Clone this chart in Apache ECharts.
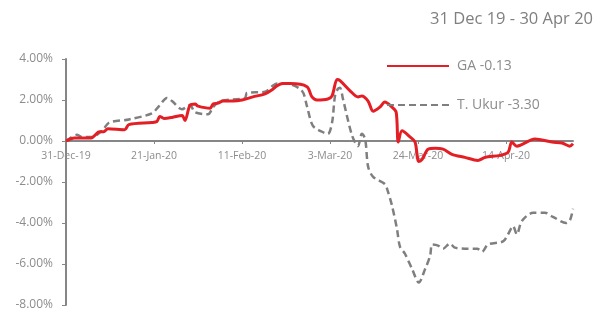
<!DOCTYPE html>
<html>
<head>
<meta charset="utf-8">
<script src="https://cdn.jsdelivr.net/npm/echarts@6/dist/echarts.min.js"></script>
<style>
  html, body { margin: 0; padding: 0; background: #fff; }
  #chart { width: 603px; height: 312px; }
</style>
</head>
<body>
<div id="chart"></div>
<script>
const startDate = new Date(Date.UTC(2019, 11, 31))
const tickDays = [0, 21, 42, 63, 84, 105]
const seriesNames = ['GA -0.13', 'T. Ukur -3.30']

const gaDays = [0, 2, 6, 8, 9, 10, 14, 15, 20.5, 21.7, 22.4, 23.4, 25.3, 27.7, 28.4, 29.6, 30.8, 31.5,
  34.4, 35.1, 36.3, 37.5, 39.9, 42, 44.6, 47.5, 49.2, 50.4, 51.8, 53.5, 57.5, 58.7, 59.9, 62.5, 63.5,
  64.7, 65.4, 67.8, 69.7, 70.6, 72.1, 73.3, 74.9, 76.1, 77.8, 78.8, 79.3, 80.2, 82.1, 83.3, 84.2, 85,
  86.4, 88.1, 90, 92.1, 95.2, 98.3, 100, 103.6, 105.5, 106.4, 107.6, 111.9, 116, 118.4, 120.2, 121]
const gaValues = [0, 0.15, 0.15, 0.45, 0.45, 0.6, 0.55, 0.8, 0.9, 0.95, 1.2, 1.1, 1.15, 1.25, 1.0, 1.75, 1.8, 1.7,
  1.6, 1.8, 1.85, 1.95, 1.95, 2.0, 2.15, 2.3, 2.5, 2.7, 2.8, 2.8, 2.65, 2.15, 2.0, 2.05, 2.2,
  3.0, 2.95, 2.45, 2.15, 2.2, 1.95, 1.45, 1.65, 1.9, 1.65, 1.4, -0.05, 0.5, 0.2, -0.05, -1.0, -0.9,
  -0.4, -0.35, -0.4, -0.65, -0.8, -0.95, -0.8, -0.7, -0.55, -0.05, -0.25, 0.1, -0.05, -0.1, -0.25, -0.13]

const ukurDays = [0, 2.6, 3.8, 6.2, 8.6, 10.3, 15, 20.5, 22.2, 24.1, 25.3, 27.7, 29.6, 30.8, 33.9, 35.1,
  36.8, 42.7, 43.2, 47.5, 49.4, 50.4, 52.7, 56.3, 57.5, 58.9, 61.1, 62.5, 63.5, 64.2, 64.9, 65.4, 66.1,
  68.3, 69.7, 70.6, 71.4, 72.1, 73.3, 76.1, 76.8, 77.8, 79, 79.7, 80.9, 82.6, 84.2, 85.7, 86.9, 87.4,
  88.8, 90, 91.6, 92.8, 95.2, 98.1, 99.3, 100.7, 104.3, 105.5, 106.7, 107.6, 108.8, 111.5, 114.3,
  116.2, 119.4, 120.3, 121]
const ukurValues = [0, 0.3, 0.2, 0.2, 0.5, 0.9, 1.05, 1.35, 1.7, 2.1, 1.95, 1.55, 1.75, 1.4, 1.3, 1.65,
  1.95, 2.1, 2.35, 2.4, 2.7, 2.8, 2.8, 2.45, 1.7, 0.75, 0.45, 0.35, 0.9, 2.2, 2.55, 2.6, 2.05,
  0.25, -0.25, 0.35, 0.1, -1.25, -1.75, -2.1, -2.45, -3.15, -4.3, -5.15, -5.5, -6.25, -6.9, -6.25, -5.6, -5.05,
  -5.1, -5.25, -5.0, -5.2, -5.25, -5.25, -5.4, -5.05, -4.9, -4.55, -4.15, -4.55, -3.9, -3.5, -3.5,
  -3.7, -4.0, -3.85, -3.3]

const months = ['Jan', 'Feb', 'Mar', 'Apr', 'May', 'Jun', 'Jul', 'Aug', 'Sep', 'Oct', 'Nov', 'Dec']
const dayLabel = (day) => {
  const d = new Date(startDate.getTime() + day * 86400000)
  return d.getUTCDate() + '-' + months[d.getUTCMonth()] + '-' + String(d.getUTCFullYear()).slice(2)
}
const pairs = (xs, ys) => xs.map((x, i) => [x, ys[i]])

const chart = echarts.init(document.getElementById('chart'), null, { renderer: 'canvas' })
const font = "'Open Sans', 'Noto Sans', sans-serif"

// grid runs 59..305, zero sits a third of the way down -> lift the x axis onto it
const yMin = -8
const yMax = 4
const gridTop = 59
const gridBottom = 7
const plotH = 312 - gridTop - gridBottom
const zeroLift = -plotH * (0 - yMin) / (yMax - yMin)

chart.setOption({
  animation: false,
  backgroundColor: '#fff',
  title: {
    text: '31 Dec 19 - 30 Apr 20',
    right: 5,
    top: 6,
    textStyle: { color: '#7f7f7f', fontSize: 16.5, fontWeight: 'normal', fontFamily: font }
  },
  legend: {
    orient: 'vertical',
    left: 381,
    top: 54,
    itemWidth: 62,
    itemHeight: 14,
    itemGap: 25,
    data: seriesNames,
    itemStyle: { opacity: 0 },
    textStyle: { color: '#8c8c8c', fontSize: 14, fontFamily: font, padding: [0, 0, 0, 3] }
  },
  grid: { left: 66, right: 30, top: gridTop, bottom: gridBottom, outerBoundsMode: 'none' },
  xAxis: {
    type: 'value',
    position: 'bottom',
    offset: zeroLift,
    min: 0,
    max: 121,
    interval: 21,
    axisLine: { onZero: false, lineStyle: { color: '#868686', width: 2 } },
    axisTick: { show: true, length: 3, customValues: tickDays, lineStyle: { color: '#868686' } },
    axisLabel: {
      customValues: tickDays,
      formatter: (v) => dayLabel(v),
      color: '#8c8c8c',
      fontSize: 10.5,
      fontFamily: font,
      margin: 10
    },
    splitLine: { show: false }
  },
  yAxis: {
    type: 'value',
    min: yMin,
    max: yMax,
    interval: 2,
    axisLine: { show: true, lineStyle: { color: '#868686', width: 2 } },
    axisTick: { show: true, length: 4, lineStyle: { color: '#868686' } },
    axisLabel: {
      formatter: (v) => v.toFixed(2) + '%',
      color: '#8c8c8c',
      fontSize: 12,
      fontFamily: font,
      margin: 13
    },
    splitLine: { show: false }
  },
  series: [
    {
      name: seriesNames[0],
      type: 'line',
      data: pairs(gaDays, gaValues),
      symbol: 'none',
      smooth: 0.3,
      z: 3,
      lineStyle: { color: '#e31e24', width: 3 },
      itemStyle: { color: '#e31e24' }
    },
    {
      name: seriesNames[1],
      type: 'line',
      data: pairs(ukurDays, ukurValues),
      symbol: 'none',
      smooth: 0.3,
      z: 2,
      lineStyle: { color: '#7f7f7f', width: 2.5, type: [7, 4] },
      itemStyle: { color: '#7f7f7f' }
    }
  ]
})
</script>
</body>
</html>
